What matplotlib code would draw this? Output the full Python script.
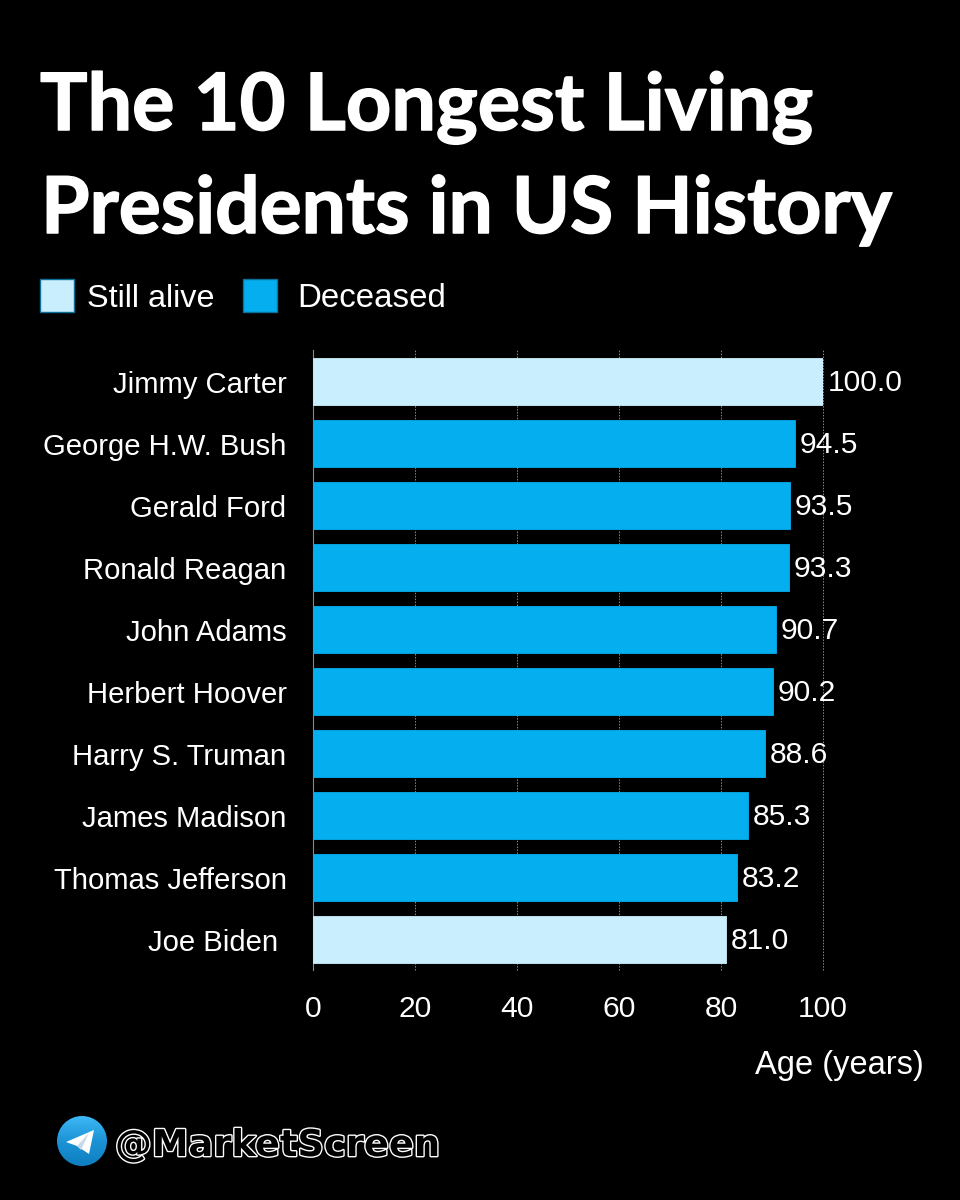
import matplotlib
matplotlib.use('Agg')
import numpy as np
import matplotlib.pyplot as plt
import matplotlib.patheffects as pe
from matplotlib.patches import Rectangle, Circle, Polygon
from matplotlib.colors import LinearSegmentedColormap
from matplotlib.transforms import Affine2D

names = ['Jimmy Carter', 'George H.W. Bush', 'Gerald Ford', 'Ronald Reagan', 'John Adams',
         'Herbert Hoover', 'Harry S. Truman', 'James Madison', 'Thomas Jefferson', 'Joe Biden ']
ages = [100.0, 94.5, 93.5, 93.3, 90.7, 90.2, 88.6, 85.3, 83.2, 81.0]
alive = [True, False, False, False, False, False, False, False, False, True]
xticks = [0, 20, 40, 60, 80, 100]

LIGHT = '#C9EFFF'
BLUE = '#05AEEF'
W, H = 960, 1200

plt.rcParams['font.family'] = ['Liberation Sans', 'DejaVu Sans']

fig = plt.figure(figsize=(W / 100, H / 100), dpi=100, facecolor='black')
# pixel coords, origin top left like the picture
px = Affine2D().scale(1 / W, -1 / H).translate(0, 1) + fig.transFigure

ax = fig.add_axes([313 / W, 1 - 970 / H, 510 / W, 620 / H], facecolor='black')
colors = [LIGHT if a else BLUE for a in alive]
y = np.arange(len(names))
ax.barh(y, ages, height=0.76, color=colors, edgecolor=colors, linewidth=0.6, zorder=3)
ax.set_xlim(0, 100)
ax.set_ylim(9.49, -0.508)

for yy, v in zip(y, ages):
    ax.text(v + 0.9, yy + 0.03, '%.1f' % v, color='white', va='center', ha='left', fontsize=21.6,
            clip_on=False, zorder=4)

for s in ['top', 'right', 'bottom']:
    ax.spines[s].set_visible(False)
ax.spines['left'].set_color('#8a8a8a')
ax.spines['left'].set_linewidth(0.8)
ax.grid(axis='x', color='#8a8a8a', linestyle=(0, (1.5, 1.5)), linewidth=0.7, zorder=0, clip_on=False)
ax.set_axisbelow(True)
ax.set_xticks(xticks)
ax.set_yticks(y)
ax.set_yticklabels(names)
ax.tick_params(axis='x', length=0, pad=18, colors='white', labelsize=21.6)
ax.tick_params(axis='y', length=0, pad=19, colors='white', labelsize=21.1)

# title
stroke = [pe.withStroke(linewidth=1.1, foreground='white')]
fig.text(40, 130, 'The 10 Longest Living', transform=px, color='white', family=['Lato', 'DejaVu Sans'],
         fontweight='bold', fontsize=57, va='baseline', path_effects=stroke)
fig.text(41, 233, 'Presidents in US History', transform=px, color='white', family=['Lato', 'DejaVu Sans'],
         fontweight='bold', fontsize=56.5, va='baseline', path_effects=stroke)

# legend
for x0, c, lab, tx, fs in [(40, LIGHT, 'Still alive', 87, 23.3), (243, BLUE, 'Deceased', 297, 23.8)]:
    fig.add_artist(Rectangle((x0, 279), 34, 33, transform=px, facecolor=c, edgecolor='#0f6f96', linewidth=1))
    fig.text(tx, 307, lab, transform=px, color='white', fontsize=fs, va='baseline')

fig.text(924, 1074, 'Age (years)', transform=px, color='white', fontsize=23.5, ha='right', va='baseline')

# telegram badge
cmap = LinearSegmentedColormap.from_list('tg', ['#3DB8F5', '#1C93D6', '#0E7FC0'])
iax = fig.add_axes([0, 0, 1, 1], facecolor='none')
iax.set_xlim(0, W)
iax.set_ylim(H, 0)
iax.axis('off')
grad = np.linspace(0, 1, 64).reshape(-1, 1)
im = iax.imshow(grad, extent=(57, 107, 1166, 1116), cmap=cmap, aspect='auto', zorder=1)
im.set_clip_path(Circle((82, 1141), 25, transform=iax.transData))
iax.set_xlim(0, W)
iax.set_ylim(H, 0)
iax.add_patch(Polygon([(66, 1142), (94, 1130), (89, 1154), (77, 1146)], facecolor='white', edgecolor='none', zorder=2))
iax.add_patch(Polygon([(77, 1146), (89, 1133), (81, 1150)], facecolor='#C8DAEA', edgecolor='none', zorder=3))

t = fig.text(115, 1156, '@MarketScreen', transform=px, color='black', fontsize=26.5,
             family='DejaVu Sans', fontweight='bold', va='baseline')
t.set_path_effects([pe.withStroke(linewidth=2.0, foreground='white')])

fig.savefig('out.png', dpi=100, facecolor='black')
